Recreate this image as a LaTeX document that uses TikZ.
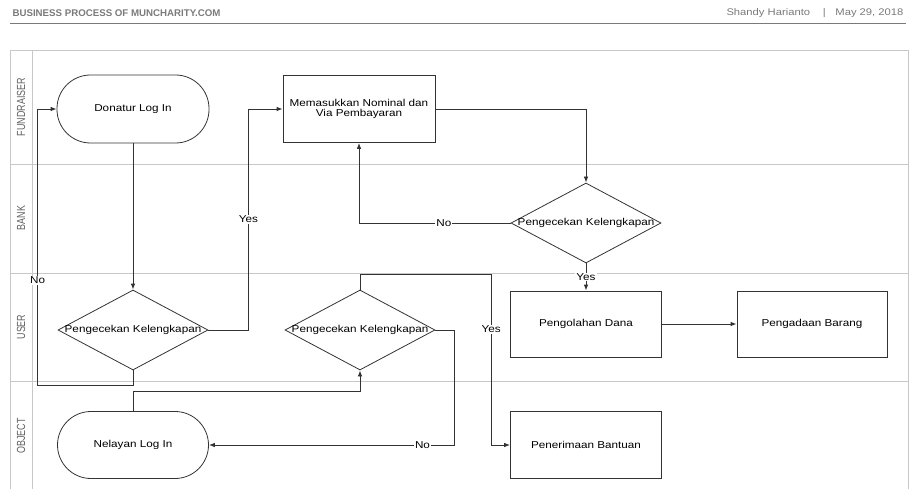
\documentclass[tikz,border=0pt]{standalone}
\usepackage{fontspec}
\usepackage{graphicx}
\setmainfont{Liberation Sans}
\newfontfamily\widesans[FakeStretch=1.17]{Liberation Sans}
\usetikzlibrary{arrows.meta,shapes.geometric}
\definecolor{flowline}{HTML}{333333}
\definecolor{lanegray}{HTML}{C8C8C8}
\definecolor{lanetext}{HTML}{606060}
\definecolor{titlegray}{HTML}{7A7A7A}
\tikzset{
  terminal/.style={draw=flowline, line width=0.8pt, rounded corners=33.5pt, minimum width=152pt, minimum height=68pt},
  process/.style={draw=flowline, line width=0.8pt, minimum width=152pt, minimum height=67pt, align=center},
  decision/.style={draw=flowline, line width=0.8pt, diamond, minimum width=150pt, minimum height=80pt, inner sep=0pt},
  flow/.style={draw=flowline, line width=0.8pt, -{Latex[length=6pt,width=4.5pt]}},
  answer/.style={fill=white, inner sep=1pt},
  lanelabel/.style={rotate=90, text=lanetext, font=\fontsize{9.4}{9}\selectfont}
}
\begin{document}
\begin{tikzpicture}[x=1pt,y=-1pt,font=\widesans\fontsize{10}{10}\selectfont]
\def\fl{10};
\def\fr{908};
\def\ft{50};
\def\fb{492};
\def\fc{32};
\useasboundingbox (0,0) rectangle (910,489);
\clip (0,0) rectangle (910,489);
%header
\node[anchor=west, text=titlegray, font=\bfseries\fontsize{9.7}{12}\selectfont] (title) at (9,13) {BUSINESS PROCESS OF MUNCHARITY.COM};
\node[anchor=east, text=titlegray, font=\widesans\fontsize{9.6}{10}\selectfont] (author) at (907,13) {Shandy Harianto \quad|\quad May 29, 2018};
\draw[titlegray] (\fl,23) -- (906,23);
%swimlanes
\draw[lanegray] (\fl,\fb) -- (\fl,\ft) -- (\fr,\ft) -- (\fr,\fb);
\draw[lanegray] (\fc,\ft) -- (\fc,\fb);
\foreach\y in {164,273,381} {
  \draw[lanegray] (\fl,\y) -- (\fr,\y);
}
\foreach\y/\t in {107/FUNDRAISER,218/BANK,327/USER,436/OBJECT} {
  \node[lanelabel] (lane\t) at (21,\y) {\scalebox{0.95}[1.25]{\t}};
}
%shapes
\node[terminal] (donatur) at (133,109) {Donatur Log In};
\node[process] (nominal) at (359,109) {Memasukkan Nominal dan\\Via Pembayaran};
\node[decision, label={center:Pengecekan Kelengkapan}] (cekbank) at (586,223) {};
\node[decision, label={center:Pengecekan Kelengkapan}] (cekdonatur) at (133,330) {};
\node[decision, label={center:Pengecekan Kelengkapan}] (ceknelayan) at (360,330) {};
\node[process, minimum width=151pt, minimum height=66pt] (olah) at (586,324) {Pengolahan Dana};
\node[process, minimum width=150pt, minimum height=66pt] (barang) at (812,324) {Pengadaan Barang};
\node[process, minimum width=151pt] (bantuan) at (586,445) {Penerimaan Bantuan};
\node[terminal, minimum width=151pt, minimum height=67pt] (nelayan) at (133,445) {Nelayan Log In};
%connectors
\draw[flow] (donatur.south) -- (cekdonatur.north);
\draw[flow] (cekdonatur.east) -- ++(40,0) |- node[answer, pos=0.25] {Yes} (nominal.west);
\draw[flow] (cekdonatur.south) -- ++(0,15) -| node[answer, pos=0.69] {No} ([xshift=-19pt]donatur.west) -- (donatur.west);
\draw[flow] (nominal.east) -| (cekbank.north);
\draw[flow] (cekbank.west) -| node[answer, pos=0.22] {No} (nominal.south);
\draw[flow] (cekbank.south) -- node[answer] {Yes} (olah.north);
\draw[flow] (olah.east) -- (barang.west);
\draw[flow] (nelayan.north) -- ++(0,-20) -| (ceknelayan.south);
\draw[flow] (ceknelayan.east) -- ++(19,0) |- node[answer, pos=0.565] {No} (nelayan.east);
\draw[flow] (ceknelayan.north) -- ++(0,-15) -| node[answer, pos=0.66] {Yes} ([xshift=-19pt]bantuan.west) -- (bantuan.west);
\end{tikzpicture}
\end{document}
